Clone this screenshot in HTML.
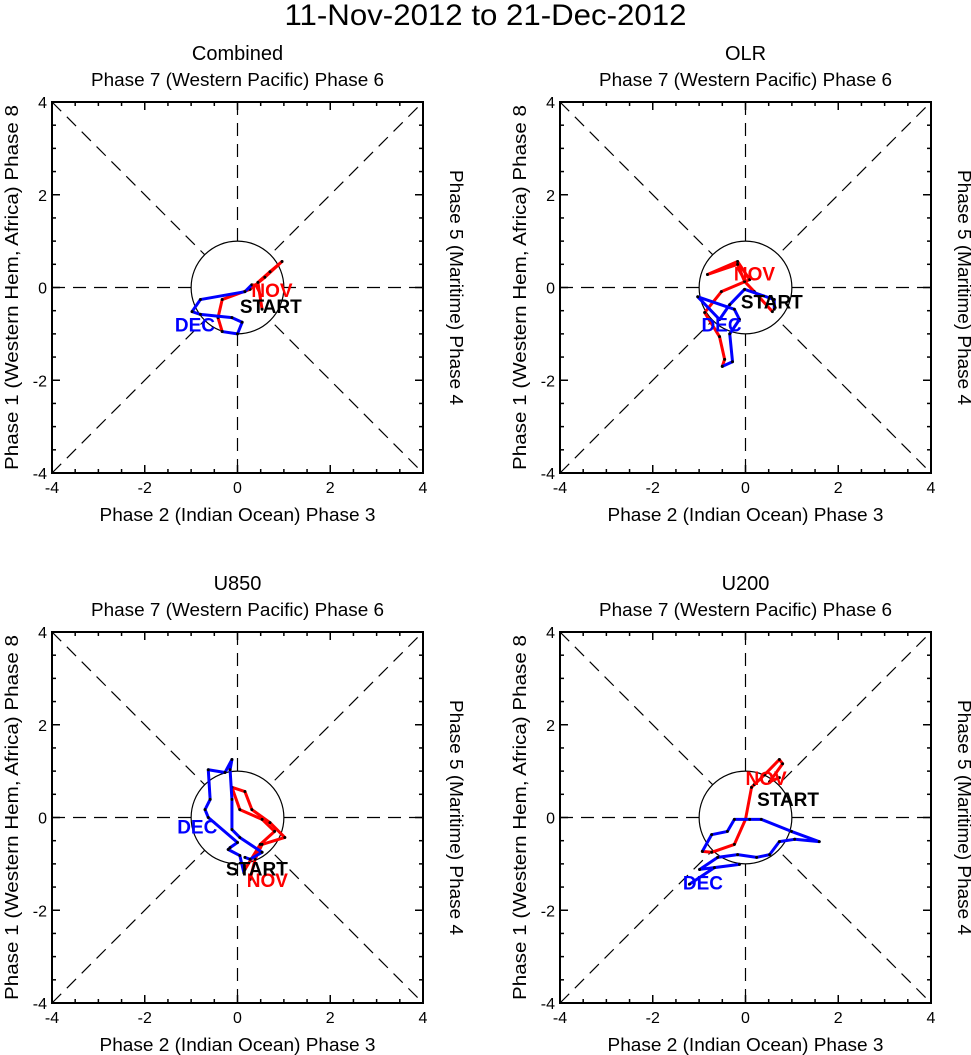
<!DOCTYPE html>
<html><head><meta charset="utf-8"><style>
body{margin:0;background:#fff;}
svg{display:block;font-family:"Liberation Sans",sans-serif;}
</style></head><body>
<svg id="s" width="971" height="1055">
<text x="485.5" y="25" font-size="30" text-anchor="middle" textLength="402" lengthAdjust="spacingAndGlyphs">11-Nov-2012 to 21-Dec-2012</text>
</svg>
<script>
const panelTitles=["Combined","OLR","U850","U200"];
const tickVals=[-4,-2,0,2,4];
// red = November segment, blue = December segment (RMM1, RMM2)
const c_redX=[0.53,0.44,0.70,0.96,0.59,0.27,-0.33,-0.42,-0.33];
const c_redY=[-0.47,0.11,0.34,0.56,0.22,-0.04,-0.26,-0.65,-0.95];
const c_bluX=[-0.33,0.0,0.10,-0.12,-0.80,-0.98,-0.80,0.16,0.31];
const c_bluY=[-0.95,-1.0,-0.75,-0.65,-0.58,-0.52,-0.26,-0.09,0.06];
const o_redX=[0.58,0.19,-0.02,-0.17,-0.82,-0.17,0.09,-0.52,-0.88,-0.56,-0.45,-0.50];
const o_redY=[-0.52,-0.09,0.13,0.50,0.28,0.56,0.17,-0.09,-0.54,-1.06,-1.55,-1.70];
const o_bluX=[-0.50,-0.28,-0.34,-0.13,-0.24,-1.03,-0.56,-0.34,-0.02,0.62,0.62];
const o_bluY=[-1.70,-1.60,-1.00,-0.69,-0.47,-0.20,-0.69,-0.37,-0.04,-0.26,-0.47];
const u8_redX=[0.27,0.38,0.53,1.02,0.70,0.31,0.16,-0.12,0.05,0.53,0.80,0.49,0.16];
const u8_redY=[-1.34,-0.90,-0.58,-0.43,-0.11,0.17,0.56,0.65,0.17,-0.04,-0.30,-0.58,-1.12];
const u8_bluX=[0.16,0.27,0.53,0.05,-0.12,-0.12,-0.16,-0.12,-0.27,-0.63,-0.59,-0.70,-0.63,0.0,-0.16,-0.20,0.05,0.14];
const u8_bluY=[-0.86,-0.90,-0.75,-0.43,-0.26,0.39,1.03,1.25,0.97,1.03,0.39,0.17,0.00,-0.54,-0.65,-0.69,-0.82,-1.20];
const u2_redX=[0.73,0.52,0.80,0.73,0.41,0.19,0.13,0.0,-0.24,-0.73,-0.93];
const u2_redY=[0.86,0.77,1.16,1.25,0.92,0.71,0.65,-0.04,-0.58,-0.75,-0.73];
const u2_bluX=[-0.93,-0.73,-0.39,-0.24,0.09,0.34,0.99,1.59,1.06,0.73,0.52,0.24,-0.17,-0.60,-0.99,-0.13,-0.67,-1.21];
const u2_bluY=[-0.73,-0.37,-0.30,-0.04,-0.04,-0.04,-0.30,-0.52,-0.47,-0.52,-0.80,-0.86,-0.80,-0.86,-1.12,-1.01,-1.08,-1.44];
const panels=[
 {x0:52,y0:102,rx:c_redX,ry:c_redY,bx:c_bluX,by:c_bluY,nov:[0.3,-0.2],dec:[-1.35,-0.95],st:[0.05,-0.55]},
 {x0:560,y0:102,rx:o_redX,ry:o_redY,bx:o_bluX,by:o_bluY,nov:[-0.25,0.15],dec:[-0.95,-0.95],st:[-0.1,-0.45]},
 {x0:52,y0:632,rx:u8_redX,ry:u8_redY,bx:u8_bluX,by:u8_bluY,nov:[0.2,-1.5],dec:[-1.3,-0.35],st:[-0.25,-1.25]},
 {x0:560,y0:632,rx:u2_redX,ry:u2_redY,bx:u2_bluX,by:u2_bluY,nov:[0.0,0.7],dec:[-1.35,-1.55],st:[0.25,0.25]}
];
const S=document.getElementById('s');const NS="http://www.w3.org/2000/svg";
function mk(t,a,p){const e=document.createElementNS(NS,t);for(const k in a)e.setAttribute(k,a[k]);(p||S).appendChild(e);return e;}
const W=371,U=W/8;
panels.forEach((p,i)=>{
 const g=mk('g',{});
 
 
 const sx=v=>p.x0+W/2+v*U, sy=v=>p.y0+W/2-v*U;
 const cx=p.x0+W/2, cy=p.y0+W/2;
 const d={stroke:'#000','stroke-width':1.2,'stroke-dasharray':'13,8',fill:'none'};
 mk('line',Object.assign({x1:p.x0,y1:p.y0,x2:p.x0+W,y2:p.y0+W},d),g);
 mk('line',Object.assign({x1:p.x0,y1:p.y0+W,x2:p.x0+W,y2:p.y0},d),g);
 mk('line',Object.assign({x1:p.x0,y1:cy,x2:p.x0+W,y2:cy},d),g);
 mk('line',Object.assign({x1:cx,y1:p.y0,x2:cx,y2:p.y0+W},d),g);
 mk('circle',{cx:cx,cy:cy,r:U,fill:'#fff',stroke:'#000','stroke-width':1.2},g);
 mk('rect',{x:p.x0,y:p.y0,width:W,height:W,fill:'none',stroke:'#000','stroke-width':2},g);
 for(let v=-4;v<=4;v+=0.5){
  const L=(v%2===0)?8:4;
  mk('line',{x1:sx(v),y1:p.y0+W,x2:sx(v),y2:p.y0+W-L,stroke:'#000','stroke-width':1.5},g);
  mk('line',{x1:sx(v),y1:p.y0,x2:sx(v),y2:p.y0+L,stroke:'#000','stroke-width':1.5},g);
  mk('line',{x1:p.x0,y1:sy(v),x2:p.x0+L,y2:sy(v),stroke:'#000','stroke-width':1.5},g);
  mk('line',{x1:p.x0+W,y1:sy(v),x2:p.x0+W-L,y2:sy(v),stroke:'#000','stroke-width':1.5},g);
 }
 tickVals.forEach(v=>{
  const t=mk('text',{x:sx(v),y:p.y0+W+20,'font-size':16,'text-anchor':'middle'},g);t.textContent=v;
  
  const t2=mk('text',{x:p.x0-5,y:sy(v)+6,'font-size':16,'text-anchor':'end'},g);t2.textContent=v;
  
 });
 let t=mk('text',{x:cx,y:p.y0-42,'font-size':20,'text-anchor':'middle'},g);t.textContent=panelTitles[i];
 
 t=mk('text',{x:cx,y:p.y0-16,'font-size':18,'text-anchor':'middle',textLength:293,lengthAdjust:'spacingAndGlyphs'},g);t.textContent="Phase 7 (Western Pacific) Phase 6";
 
 t=mk('text',{x:cx,y:p.y0+W+48,'font-size':18,'text-anchor':'middle',textLength:276,lengthAdjust:'spacingAndGlyphs'},g);t.textContent="Phase 2 (Indian Ocean) Phase 3";
 
 t=mk('text',{x:0,y:0,'font-size':18,'text-anchor':'middle',textLength:365,lengthAdjust:'spacingAndGlyphs',transform:`translate(${p.x0-34},${cy}) rotate(-90)`},g);t.textContent="Phase 1 (Western Hem, Africa) Phase 8";
 
 t=mk('text',{x:0,y:0,'font-size':18,'text-anchor':'middle',textLength:235,lengthAdjust:'spacingAndGlyphs',transform:`translate(${p.x0+W+27},${cy}) rotate(90)`},g);t.textContent="Phase 5 (Maritime) Phase 4";
 
 [[p.rx,p.ry,'#f00','nov'],[p.bx,p.by,'#00f','dec']].forEach(([X,Y,col,nm])=>{
  const pts=X.map((x,k)=>sx(x)+','+sy(Y[k])).join(' ');
  const pl=mk('polyline',{points:pts,fill:'none',stroke:col,'stroke-width':3,'stroke-linejoin':'round'},g);
  
  X.forEach((x,k)=>{
   const c=mk('circle',{cx:sx(x),cy:sy(Y[k]),r:1.5,fill:'#000'},g);
   
  });
 });
 t=mk('text',{x:sx(p.nov[0]),y:sy(p.nov[1]),'font-size':19,'font-weight':'bold',fill:'#f00'},g);t.textContent="NOV";
 
 t=mk('text',{x:sx(p.dec[0]),y:sy(p.dec[1]),'font-size':19,'font-weight':'bold',fill:'#00f'},g);t.textContent="DEC";
 
 t=mk('text',{x:sx(p.st[0]),y:sy(p.st[1]),'font-size':19,'font-weight':'bold',fill:'#000'},g);t.textContent="START";
 
});
</script>
</body></html>
